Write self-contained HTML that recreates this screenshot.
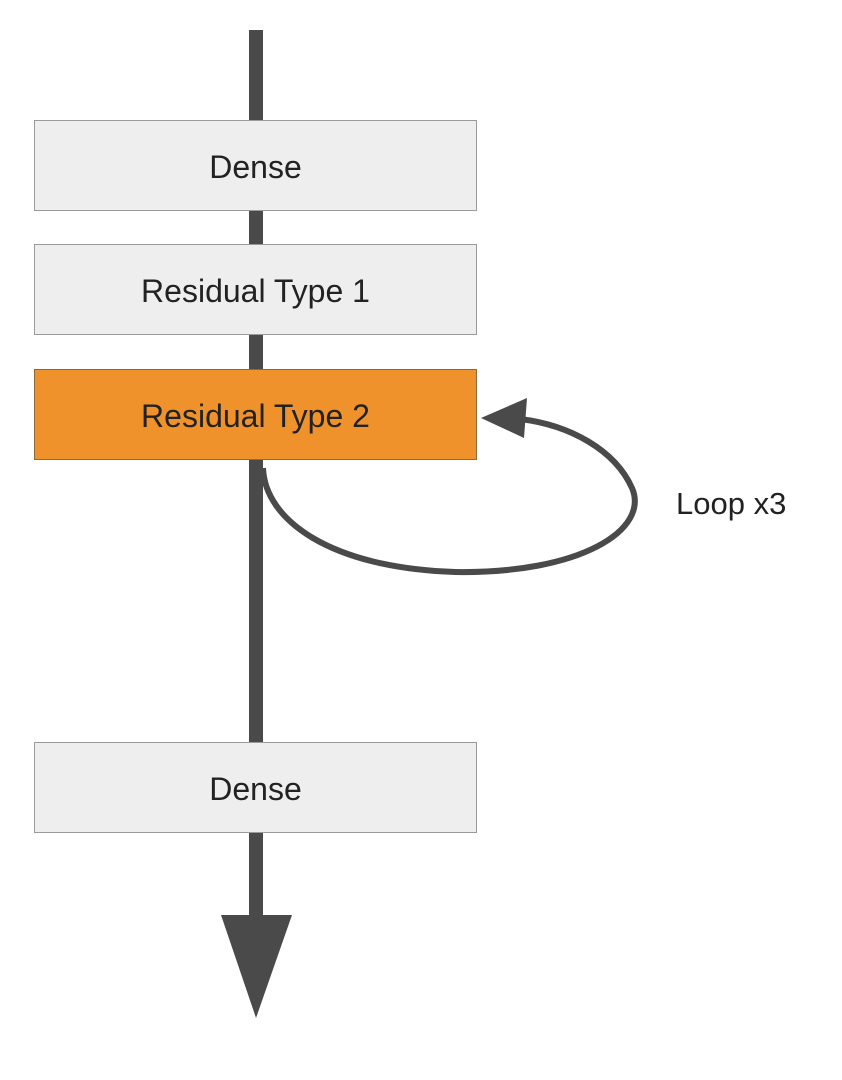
<!DOCTYPE html>
<html><head><style>
html,body{margin:0;padding:0;background:#fff;}
body{width:842px;height:1080px;position:relative;overflow:hidden;font-family:"Liberation Sans",sans-serif;}
.box{position:absolute;left:34px;width:443px;background:#eeeeee;border:1px solid #9a9a9a;display:flex;align-items:center;justify-content:center;font-size:32px;color:#222;padding-top:4px;box-sizing:border-box;height:91px;}
</style></head><body>
<svg width="842" height="1080" style="position:absolute;left:0;top:0">
<rect x="249" y="30" width="14" height="890" fill="#4a4a4a"/>
<polygon points="221,915 292,915 256,1018" fill="#4a4a4a"/>
<path d="M263,468 C265,520 330,568 455,572 C580,574 650,530 632,488 C615,450 570,425 520,419" fill="none" stroke="#4a4a4a" stroke-width="6"/>
<polygon points="481,418 527,398 524,438" fill="#4a4a4a"/>
</svg>
<div class="box" style="top:120px">Dense</div>
<div class="box" style="top:244px">Residual Type 1</div>
<div class="box" style="top:369px;background:#F0922B;border-color:#8a6a40">Residual Type 2</div>
<div class="box" style="top:742px">Dense</div>
<div style="position:absolute;left:676px;top:486px;font-size:31px;color:#222">Loop x3</div>
</body></html>
